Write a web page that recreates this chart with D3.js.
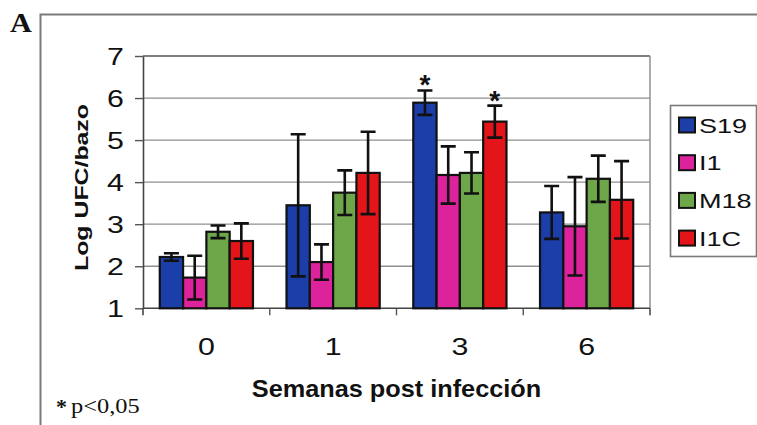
<!DOCTYPE html>
<html>
<head>
<meta charset="utf-8">
<script src="https://cdn.jsdelivr.net/npm/d3@7"></script>
<style>
  html, body { margin: 0; padding: 0; background: #fff; }
  svg { display: block; }
</style>
</head>
<body>
<svg id="chart" width="757" height="425"></svg>
<script>
// Weeks after infection (categories) and strains (series)
const weeks = ["0", "1", "3", "6"];
const strains = ["S19", "I1", "M18", "I1C"];

// Mean log CFU per spleen, one array per strain (ordered as weeks)
const S19 = [2.22, 3.45, 5.89, 3.28];
const I1  = [1.73, 2.10, 4.17, 2.95];
const M18 = [2.82, 3.75, 4.22, 4.08];
const I1C = [2.60, 4.22, 5.44, 3.58];

// Error bar half-lengths (same order)
const S19_err = [0.09, 1.69, 0.29, 0.63];
const I1_err  = [0.52, 0.42, 0.68, 1.17];
const M18_err = [0.15, 0.53, 0.49, 0.55];
const I1C_err = [0.42, 0.98, 0.38, 0.92];

// Y axis ticks
const yTicks = [1, 2, 3, 4, 5, 6, 7];

// Significant differences (p<0,05)
const significant = [
  { week: "3", strain: "S19" },
  { week: "3", strain: "I1C" }
];

const colors = ["#1b3ea8", "#dc239c", "#6ea64a", "#e3151b"];

const means = { S19, I1, M18, I1C };
const errs = { S19: S19_err, I1: I1_err, M18: M18_err, I1C: I1C_err };

const rows = [];
strains.forEach(s => weeks.forEach((w, i) => {
  rows.push({ strain: s, week: w, value: means[s][i], err: errs[s][i] });
}));

const svg = d3.select("#chart");
const sans = "'Liberation Sans', Arial, Helvetica, sans-serif";
const serif = "'Liberation Serif', 'Times New Roman', serif";

const plot = { left: 143, right: 650, top: 56, bottom: 308.3 };

const x = d3.scaleBand().domain(weeks).range([plot.left, plot.right]).padding(0);
const xs = d3.scaleBand().domain(strains).range([0, x.bandwidth()])
  .paddingInner(0).paddingOuter(0.72);
const y = d3.scaleLinear().domain([1, 7]).range([plot.bottom, plot.top]);
const color = d3.scaleOrdinal().domain(strains).range(colors);

// Text helper with horizontal glyph scaling
function label(g, str, tx, ty, opts) {
  return g.append("text")
    .attr("transform", `translate(${tx},${ty}) rotate(${opts.rotate || 0}) scale(${opts.sx || 1},1)`)
    .attr("font-family", opts.family || sans)
    .attr("font-size", opts.size)
    .attr("font-weight", opts.weight || "normal")
    .attr("text-anchor", opts.anchor || "start")
    .attr("fill", "#111")
    .text(str);
}

// Outer frame
svg.append("path")
  .attr("d", `M40.5,430 V14.5 H760`)
  .attr("fill", "none").attr("stroke", "#7a7a7a").attr("stroke-width", 2);

label(svg, "A", 10, 32, { size: 28, weight: "bold", family: serif, sx: 1.08 });

// Gridlines
svg.append("g").selectAll("line")
  .data(yTicks.filter(t => t > 1))
  .join("line")
  .attr("x1", plot.left).attr("x2", plot.right)
  .attr("y1", d => y(d)).attr("y2", d => y(d))
  .attr("stroke", d => d === 7 ? "#555" : "#8f8f8f")
  .attr("stroke-width", d => d === 7 ? 1.6 : 1.3);

// Right border of plot area
svg.append("line")
  .attr("x1", plot.right).attr("x2", plot.right)
  .attr("y1", plot.top).attr("y2", plot.bottom + 7)
  .attr("stroke", "#888").attr("stroke-width", 1.4);

// Y axis
const yAxis = svg.append("g")
  .attr("transform", `translate(${plot.left},0)`)
  .call(d3.axisLeft(y).tickValues(yTicks).tickFormat(d3.format("d")).tickSize(8).tickSizeOuter(0));
yAxis.select(".domain").attr("stroke", "#444").attr("stroke-width", 1.6);
yAxis.selectAll(".tick line").attr("stroke", "#555").attr("stroke-width", 1.4);
yAxis.selectAll(".tick text")
  .attr("x", null).attr("dy", null)
  .attr("transform", "translate(-19,8.2) scale(1.32,1)")
  .attr("font-family", sans).attr("font-size", 23).attr("fill", "#111");

// Left axis line extension below baseline
svg.append("line")
  .attr("x1", plot.left).attr("x2", plot.left)
  .attr("y1", plot.bottom).attr("y2", plot.bottom + 7)
  .attr("stroke", "#444").attr("stroke-width", 1.6);

// X axis baseline and boundary ticks
svg.append("line")
  .attr("x1", plot.left).attr("x2", plot.right)
  .attr("y1", plot.bottom).attr("y2", plot.bottom)
  .attr("stroke", "#444").attr("stroke-width", 1.6);
svg.append("g").selectAll("line")
  .data(weeks.slice(1).concat(["end"]))
  .join("line")
  .attr("x1", d => d === "end" ? plot.right : x(d))
  .attr("x2", d => d === "end" ? plot.right : x(d))
  .attr("y1", plot.bottom).attr("y2", plot.bottom + 7)
  .attr("stroke", "#555").attr("stroke-width", 1.4);

// Category labels
const xAxis = svg.append("g")
  .attr("transform", `translate(0,${plot.bottom})`)
  .call(d3.axisBottom(x).tickSize(0));
xAxis.select(".domain").remove();
xAxis.selectAll(".tick text")
  .attr("y", null).attr("dy", null)
  .attr("transform", "translate(0,47) scale(1.32,1)")
  .attr("font-family", sans).attr("font-size", 23).attr("fill", "#111");

// Bars
const groups = svg.append("g").selectAll("g")
  .data(rows)
  .join("g")
  .attr("transform", d => `translate(${x(d.week) + xs(d.strain)},0)`);

groups.append("rect")
  .attr("x", 0)
  .attr("width", xs.bandwidth())
  .attr("y", d => y(d.value))
  .attr("height", d => y(1) - y(d.value))
  .attr("fill", d => color(d.strain))
  .attr("stroke", "#111")
  .attr("stroke-width", 2.2);

// Error bars
const cap = 7.5;
groups.append("path")
  .attr("d", d => {
    const cx = xs.bandwidth() / 2;
    const y1 = y(d.value + d.err), y0 = y(d.value - d.err);
    return `M${cx},${y1}V${y0}M${cx - cap},${y1}H${cx + cap}M${cx - cap},${y0}H${cx + cap}`;
  })
  .attr("fill", "none")
  .attr("stroke", "#111")
  .attr("stroke-width", 2.6);

// Significance markers
svg.append("g").selectAll("text")
  .data(significant)
  .join("text")
  .attr("x", d => x(d.week) + xs(d.strain) + xs.bandwidth() / 2)
  .attr("y", d => {
    const r = rows.find(o => o.week === d.week && o.strain === d.strain);
    return y(r.value + r.err) + 4;
  })
  .attr("text-anchor", "middle")
  .attr("font-family", sans).attr("font-size", 28).attr("font-weight", "bold")
  .attr("fill", "#111")
  .text("*");

// Axis titles
label(svg, "Log UFC/bazo", 88, 187.5, { size: 18, weight: "bold", anchor: "middle", rotate: -90, sx: 1.38 });
label(svg, "Semanas post infección", (plot.left + plot.right) / 2, 397, { size: 23, weight: "bold", anchor: "middle", sx: 1.1 });

// Footnote
label(svg, "*", 56, 414, { size: 20, weight: "bold", family: serif, sx: 1.1 });
label(svg, "p<0,05", 71, 413, { size: 20, family: serif, sx: 1.22 });

// Legend
const legend = svg.append("g");
legend.append("rect")
  .attr("x", 670.5).attr("y", 105.5).attr("width", 86).attr("height", 151)
  .attr("fill", "#fff").attr("stroke", "#7a7a7a").attr("stroke-width", 1.6);
const item = legend.selectAll("g.item")
  .data(strains)
  .join("g").attr("class", "item")
  .attr("transform", (d, i) => `translate(0,${125 + i * 37.7})`);
item.append("rect")
  .attr("x", 679).attr("y", -7.5).attr("width", 16).attr("height", 15)
  .attr("fill", d => color(d)).attr("stroke", "#111").attr("stroke-width", 2);
item.each(function (d) {
  label(d3.select(this), d, 699, 7.5, { size: 20.5, sx: 1.32 });
});
</script>
</body>
</html>
